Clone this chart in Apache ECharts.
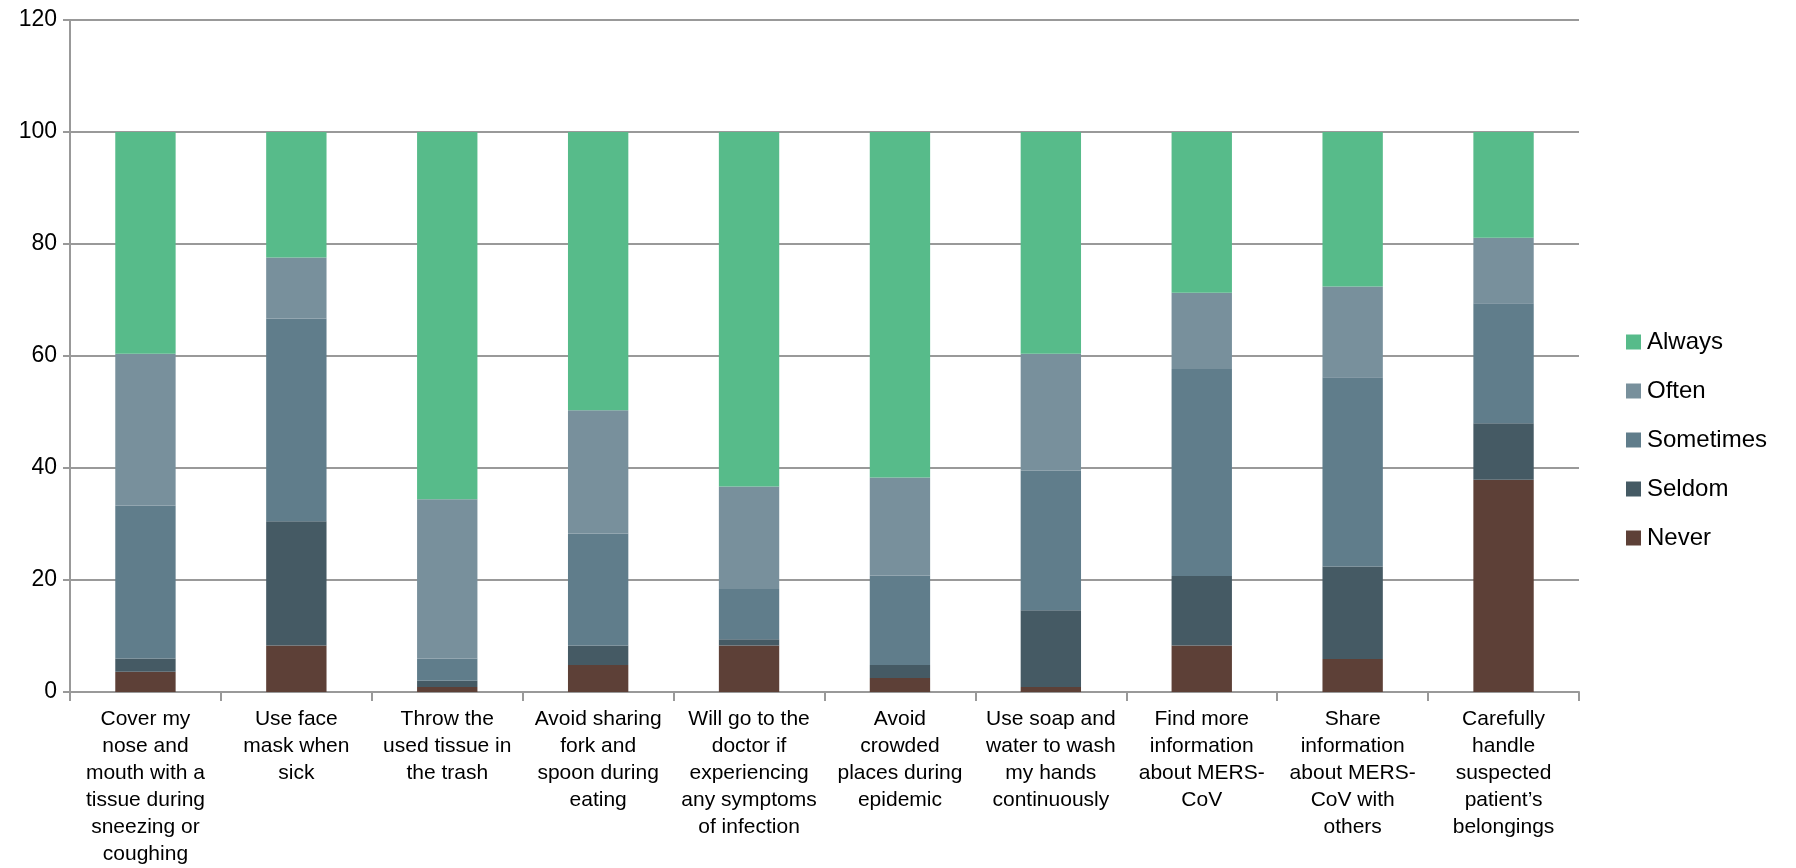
<!DOCTYPE html>
<html>
<head>
<meta charset="utf-8">
<title>MERS-CoV preventive behaviours</title>
<script src="https://cdn.jsdelivr.net/npm/echarts@6/dist/echarts.min.js"></script>
<style>
  html, body { margin: 0; padding: 0; background: #fff; }
  #chart { width: 1796px; height: 868px; }
</style>
</head>
<body>
<div id="chart"></div>
<script>
// Behaviour items (line breaks follow the wrapped axis labels)
const categories = [
  "Cover my\nnose and\nmouth with a\ntissue during\nsneezing or\ncoughing",
  "Use face\nmask when\nsick",
  "Throw the\nused tissue in\nthe trash",
  "Avoid sharing\nfork and\nspoon during\neating",
  "Will go to the\ndoctor if\nexperiencing\nany symptoms\nof infection",
  "Avoid\ncrowded\nplaces during\nepidemic",
  "Use soap and\nwater to wash\nmy hands\ncontinuously",
  "Find more\ninformation\nabout MERS-\nCoV",
  "Share\ninformation\nabout MERS-\nCoV with\nothers",
  "Carefully\nhandle\nsuspected\npatient\u2019s\nbelongings"
];

// Percentage of respondents per answer (stacked from bottom: Never .. Always)
const never     = [3.6,  8.3,  0.9,  4.8,  8.3,  2.5,  0.9,  8.3,  5.9, 37.9];
const seldom    = [2.4, 22.2,  1.1,  3.5,  1.1,  2.3, 13.7, 12.4, 16.5, 10.1];
const sometimes = [27.3, 36.2, 4.0, 20.0,  9.0, 16.0, 24.9, 37.0, 33.8, 21.4];
const often     = [27.1, 10.9, 28.4, 22.0, 18.3, 17.5, 20.9, 13.6, 16.2, 11.7];
const always    = [39.6, 22.4, 65.6, 49.7, 63.3, 61.7, 39.6, 28.7, 27.6, 18.9];

const yTicks = { min: 0, max: 120, interval: 20 };
const legendOrder = ["Always", "Often", "Sometimes", "Seldom", "Never"];

const FONT = "'Liberation Sans', Arial, sans-serif";
const GRID_GRAY = "#999999";

const seriesDefs = [
  { name: "Never",     data: never,     color: "#5D4037" },
  { name: "Seldom",    data: seldom,    color: "#455A64" },
  { name: "Sometimes", data: sometimes, color: "#607D8B" },
  { name: "Often",     data: often,     color: "#78909C" },
  { name: "Always",    data: always,    color: "#57BB8A" }
];

const chart = echarts.init(document.getElementById("chart"), null, { renderer: "canvas" });

chart.setOption({
  animation: false,
  backgroundColor: "#ffffff",
  textStyle: { fontFamily: FONT },
  grid: { left: 70, right: 217, top: 20, bottom: 174, containLabel: false },
  legend: {
    orient: "vertical",
    left: 1626,
    top: 330,
    padding: 0,
    data: legendOrder,
    icon: "rect",
    itemWidth: 15,
    itemHeight: 15,
    itemGap: 25,
    textStyle: { fontSize: 24, lineHeight: 24, color: "#000", fontFamily: FONT, padding: [0, 0, 0, 1] }
  },
  xAxis: {
    type: "category",
    data: categories,
    boundaryGap: true,
    axisLine: { show: true, lineStyle: { color: GRID_GRAY, width: 2 } },
    axisTick: { show: true, length: 9, lineStyle: { color: GRID_GRAY, width: 2 } },
    axisLabel: {
      interval: 0,
      margin: 14,
      fontSize: 21,
      lineHeight: 27,
      color: "#000",
      fontFamily: FONT,
      align: "center"
    },
    splitLine: { show: false }
  },
  yAxis: {
    type: "value",
    min: yTicks.min,
    max: yTicks.max,
    interval: yTicks.interval,
    axisLine: { show: true, lineStyle: { color: GRID_GRAY, width: 2 } },
    axisTick: { show: true, length: 7, lineStyle: { color: GRID_GRAY, width: 2 } },
    axisLabel: { fontSize: 23, color: "#000", margin: 13, fontFamily: FONT },
    splitLine: { show: true, lineStyle: { color: GRID_GRAY, width: 2 } }
  },
  series: seriesDefs.map(s => ({
    name: s.name,
    type: "bar",
    stack: "total",
    barWidth: "40%",
    data: s.data,
    itemStyle: { color: s.color },
    emphasis: { disabled: true }
  }))
});
</script>
</body>
</html>
